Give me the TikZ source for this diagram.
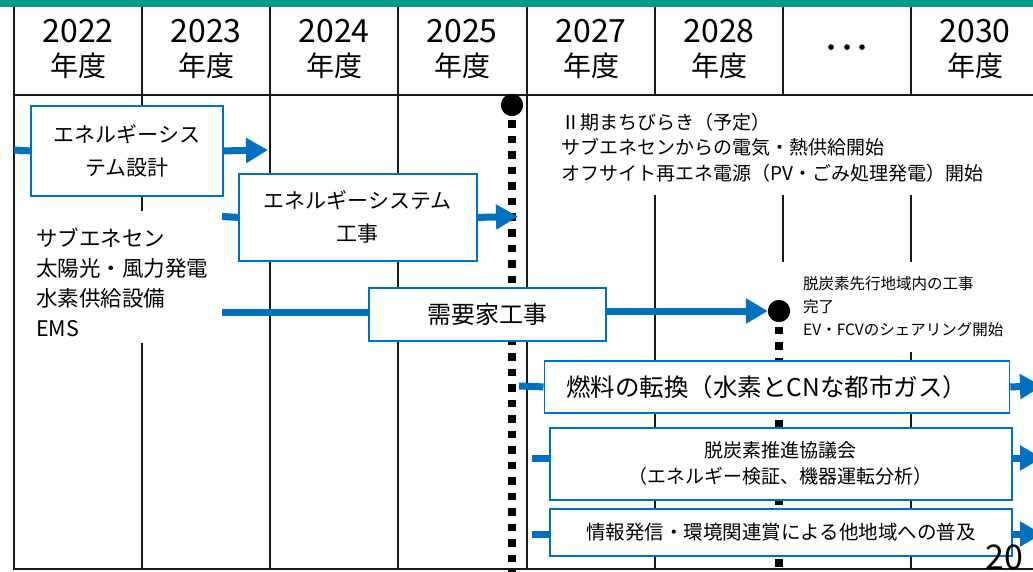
\documentclass[tikz,border=0pt]{standalone}
\usepackage{fontspec}
\setmainfont{Noto Sans CJK JP}
\usetikzlibrary{arrows.meta}
\definecolor{bl}{RGB}{0,112,192}
\definecolor{gr}{RGB}{0,156,135}
\newcommand{\fs}[2]{\fontsize{#1}{#2}\selectfont}
\begin{document}
\begin{tikzpicture}[x=1pt,y=-1pt,
  box/.style={draw=bl, line width=1.8pt, fill=white, inner sep=0pt, align=center},
  flow/.style={draw=bl, line width=7pt},
  flowarr/.style={flow, -{Triangle[length=22pt,width=24pt]}},
  gridline/.style={line width=1.4pt, draw=black!90},
  ms/.style={circle, fill=black, minimum size=22pt, inner sep=0pt},
  dots/.style={line width=7.5pt, dash pattern=on 7.5pt off 8pt},
  hyear/.style={font=\fs{28}{28}, anchor=base, inner sep=0pt},
  txt/.style={inner sep=0pt, align=left, anchor=north west}
]
\useasboundingbox (0,0) rectangle (1033,572);
\fill[gr] (0,0) rectangle (1033,7);
% grid
\draw[gridline] (14,7) -- (14,569) -- (1033,569);
\draw[gridline] (14,95) -- (1033,95);
\foreach \x in {142,270,398,527,655,783,911} \draw[gridline] (\x,7) -- (\x,95);
\draw[gridline] (142,95) -- (142,211) (142,343) -- (142,569);
\draw[gridline] (270,95) -- (270,569);
\draw[gridline] (398,95) -- (398,569);
\draw[gridline] (527,95) -- (527,569);
\draw[gridline] (655,195) -- (655,569);
\draw[gridline] (783,195) -- (783,262);
\draw[gridline] (911,195) -- (911,262) (911,352) -- (911,569);
% header
\foreach \x/\y [count=\i] in {78/2022,206/2023,334/2024,462/2025,591/2027,719/2028,975/2030}{
  \node[hyear, font=\fs{32}{32}] (y\i) at (\x,43) {\y};
  \node[hyear] (n\i) at (\x,77) {年度};
}
\node[hyear, font=\fs{26}{26}] (ell) at (847,58) {・\kern-10.5pt・\kern-10.5pt・};
% milestones dotted lines
\node[ms] (m1) at (512,105) {};
\node[ms] (m2) at (779,311) {};
\coordinate (m1e) at (512,575);
\coordinate (m2e) at (779,575);
\draw[dots] (m1.center) -- (m1e);
\draw[dots] (m2.center) -- (m2e);
\node[ms] at (m1) {};
\node[ms] at (m2) {};
% texts
\node[txt, font=\fs{21.5}{30}] (t1) at (36,228) {サブエネセン\\太陽光・風力発電\\水素供給設備\\EMS};
\node[txt, font=\fs{19}{25.5}] (t2) at (561,113) {Ⅱ期まちびらき（予定）\\サブエネセンからの電気・熱供給開始\\オフサイト再エネ電源（PV・ごみ処理発電）開始};
\node[txt, font=\fs{15.5}{23}] (t3) at (803,276) {脱炭素先行地域内の工事\\完了\\EV・FCVのシェアリング開始};
% boxes
\node[box, anchor=north west, minimum width=192pt, minimum height=90pt, font=\fs{21}{33}] (b1) at (30,105) {エネルギーシス\\テム設計};
\node[box, anchor=north west, minimum width=238pt, minimum height=87pt, font=\fs{21}{33}] (b2) at (238,173) {エネルギーシステム\\工事};
\node[box, anchor=north west, minimum width=237pt, minimum height=53pt, font=\fs{24}{24}] (b3) at (368,287) {需要家工事};
\node[box, anchor=north west, minimum width=465pt, minimum height=52pt, font=\fs{24.5}{24.5}] (b4) at (543.5,360) {燃料の転換（水素とCNな都市ガス）\hspace*{20pt}};
\node[box, anchor=north west, minimum width=462pt, minimum height=72pt, font=\fs{19}{26}] (b5) at (549,427) {脱炭素推進協議会\\（エネルギー検証、機器運転分析）};
\node[box, anchor=north west, minimum width=462pt, minimum height=47pt, font=\fs{19.5}{19.5}] (b6) at (549,508) {情報発信・環境関連賞による他地域への普及};
% connectors
\coordinate (s1) at (14,150);
\coordinate (e1) at (268,150);
\draw[flow] (s1) -- (b1.west);
\draw[flowarr] (b1.east) -- (e1);
\coordinate (s2) at (222,216.5);
\coordinate (e2) at (518,216.5);
\draw[flow] (s2) -- (b2.west);
\draw[flowarr] (b2.east) -- (e2);
\coordinate (s3) at (222,312);
\draw[flow] (s3) -- (s3 -| b3.west);
\draw[flowarr] (b3.east |- m2) -- (m2.west);
\coordinate (s4) at (519,386);
\coordinate (e4) at (1042,386);
\draw[flow] (s4) -- (b4.west);
\draw[flowarr] (b4.east) -- (e4);
\coordinate (s5) at (532,458);
\coordinate (e5) at (1042,458);
\draw[flow] (s5) -- (s5 -| b5.west);
\draw[flowarr] (s5 -| b5.east) -- (e5);
\coordinate (s6) at (532,534);
\coordinate (e6) at (1042,534);
\draw[flow] (s6) -- (s6 -| b6.west);
\draw[flowarr] (s6 -| b6.east) -- (e6);
% page number
\node[hyear, font=\fs{34}{34}] (pg) at (1004,569) {20};
\end{tikzpicture}
\end{document}
